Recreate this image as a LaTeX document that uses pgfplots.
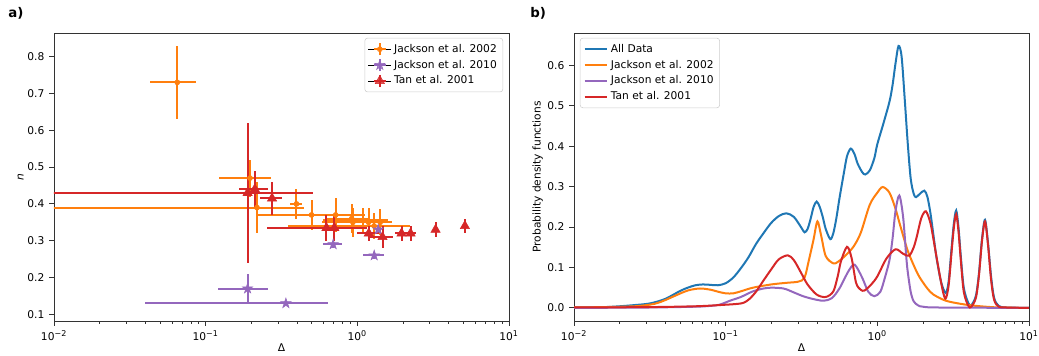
\documentclass[border=0pt]{standalone}
\usepackage{fontspec}
\setmainfont{DejaVu Sans}
\usepackage{pgfplots}
\pgfplotsset{compat=1.18}
\usepackage{pgfplotstable}
\definecolor{corange}{HTML}{FF7F0E}
\definecolor{cpurple}{HTML}{9467BD}
\definecolor{cred}{HTML}{D62728}
\definecolor{cblue}{HTML}{1F77B4}

\pgfdeclareplotmark{fstar}{%
  \pgfpathmoveto{\pgfpointpolar{90}{\pgfplotmarksize}}%
  \pgfpathlineto{\pgfpointpolar{126}{0.382\pgfplotmarksize}}%
  \pgfpathlineto{\pgfpointpolar{162}{\pgfplotmarksize}}%
  \pgfpathlineto{\pgfpointpolar{198}{0.382\pgfplotmarksize}}%
  \pgfpathlineto{\pgfpointpolar{234}{\pgfplotmarksize}}%
  \pgfpathlineto{\pgfpointpolar{270}{0.382\pgfplotmarksize}}%
  \pgfpathlineto{\pgfpointpolar{306}{\pgfplotmarksize}}%
  \pgfpathlineto{\pgfpointpolar{342}{0.382\pgfplotmarksize}}%
  \pgfpathlineto{\pgfpointpolar{18}{\pgfplotmarksize}}%
  \pgfpathlineto{\pgfpointpolar{54}{0.382\pgfplotmarksize}}%
  \pgfpathclose\pgfusepathqfillstroke}

% Jackson et al. 2002
\pgfplotstableread{
x y xm xp ym yp
0.065 0.73 0.022 0.022 0.10 0.10
0.196 0.47 0.073 0.073 0.05 0.05
0.218 0.39 0.213 0.226 0.07 0.07
0.397 0.40 0.036 0.036 0.04 0.04
0.499 0.37 0.28 0.28 0.04 0.04
0.720 0.37 0.40 0.40 0.045 0.045
0.918 0.36 0.30 0.30 0.04 0.04
0.935 0.35 0.35 0.35 0.04 0.04
1.098 0.355 0.50 0.50 0.035 0.035
1.185 0.35 0.30 0.30 0.04 0.04
1.29 0.34 0.94 0.94 0.035 0.035
1.415 0.35 0.28 0.28 0.035 0.035
}\jacksonA

% Jackson et al. 2010
\pgfplotstableread{
x y xm xp ym yp
0.189 0.17 0.068 0.068 0.04 0.04
0.338 0.13 0.298 0.298 0.005 0.005
0.693 0.29 0.095 0.095 0.01 0.01
1.292 0.26 0.20 0.20 0.01 0.01
1.373 0.33 0.03 0.03 0.01 0.01
}\jacksonB

% Tan et al. 2001
\pgfplotstableread{
x y xm xp ym yp
0.189 0.43 0.184 0.323 0.19 0.19
0.211 0.44 0.046 0.046 0.05 0.05
0.274 0.415 0.046 0.046 0.045 0.045
0.626 0.335 0.15 0.15 0.035 0.035
0.705 0.335 0.45 0.45 0.035 0.035
1.19 0.32 0.20 0.20 0.02 0.02
1.466 0.31 0.26 0.26 0.03 0.03
1.957 0.32 0.18 0.18 0.02 0.02
2.244 0.32 0.20 0.20 0.02 0.02
3.28 0.33 0.03 0.03 0.02 0.02
5.12 0.34 0.06 0.06 0.02 0.02
}\tandata

% PDF curves
\pgfplotstableread{
D v
0.01 0.001
0.01585 0.002
0.01995 0.004
0.02512 0.007
0.03162 0.011
0.03981 0.022
0.05012 0.042
0.05623 0.050
0.06310 0.056
0.07079 0.058
0.07943 0.057
0.08913 0.056
0.1 0.061
0.1122 0.075
0.1259 0.098
0.1413 0.125
0.1585 0.158
0.1778 0.185
0.1995 0.210
0.2239 0.227
0.2512 0.234
0.2818 0.225
0.3162 0.198
0.3311 0.187
0.3467 0.195
0.3631 0.220
0.3802 0.250
0.3981 0.263
0.4169 0.250
0.4365 0.225
0.4571 0.195
0.4898 0.170
0.5129 0.185
0.5370 0.222
0.5623 0.270
0.6026 0.335
0.6310 0.375
0.6683 0.394
0.7079 0.380
0.7413 0.357
0.7943 0.336
0.8318 0.330
0.8913 0.340
0.9550 0.370
1.0 0.405
1.0965 0.456
1.2023 0.510
1.2589 0.550
1.3183 0.605
1.3804 0.648
1.4454 0.622
1.5136 0.520
1.5849 0.410
1.6596 0.320
1.7378 0.282
1.7989 0.274
1.9055 0.282
2.0417 0.290
2.1380 0.275
2.2387 0.235
2.3442 0.180
2.4547 0.125
2.6303 0.065
2.8184 0.037
2.9512 0.065
3.0903 0.150
3.1989 0.210
3.3113 0.241
3.4277 0.200
3.5481 0.130
3.7154 0.050
3.9811 0.012
4.1687 0.007
4.4668 0.030
4.6774 0.085
4.8978 0.170
5.1286 0.218
5.3703 0.160
5.6234 0.078
5.8884 0.025
6.3096 0.005
7.0795 0.001
10 0.000
}\pdfall

\pgfplotstableread{
D v
0.01 0.001
0.01585 0.002
0.02512 0.004
0.03162 0.008
0.03548 0.012
0.03981 0.019
0.04571 0.029
0.05623 0.043
0.06761 0.048
0.07943 0.045
0.08913 0.040
0.1 0.036
0.1122 0.036
0.1259 0.041
0.1514 0.050
0.1995 0.058
0.2512 0.062
0.3020 0.065
0.3311 0.075
0.3548 0.120
0.3802 0.170
0.4027 0.214
0.4266 0.178
0.4571 0.128
0.5129 0.110
0.5495 0.114
0.6026 0.126
0.6918 0.150
0.7762 0.185
0.8913 0.255
1.0 0.285
1.0839 0.299
1.2023 0.285
1.3183 0.245
1.4125 0.205
1.5849 0.142
1.7783 0.097
1.9055 0.075
2.1380 0.048
2.3442 0.033
2.8184 0.018
3.5481 0.010
4.4668 0.005
6.3096 0.001
10 0.000
}\pdfjA

\pgfplotstableread{
D v
0.01 0.000
0.03162 0.001
0.06310 0.003
0.07943 0.005
0.09120 0.008
0.1072 0.018
0.1259 0.027
0.1514 0.041
0.1778 0.048
0.1995 0.050
0.2291 0.049
0.2512 0.046
0.3236 0.029
0.3981 0.020
0.4467 0.018
0.5012 0.024
0.5623 0.048
0.6457 0.091
0.7079 0.107
0.7943 0.075
0.8710 0.040
0.9550 0.029
1.0471 0.040
1.1220 0.075
1.2023 0.118
1.2589 0.170
1.3183 0.240
1.3964 0.278
1.4791 0.225
1.5488 0.130
1.5849 0.091
1.6596 0.040
1.7378 0.016
1.8621 0.006
1.9953 0.003
2.5119 0.001
10 0.000
}\pdfjB

\pgfplotstableread{
D v
0.01 0.001
0.03162 0.002
0.06310 0.004
0.09120 0.007
0.1259 0.011
0.1413 0.020
0.1585 0.040
0.1778 0.068
0.1995 0.095
0.2239 0.120
0.2570 0.130
0.2818 0.118
0.3162 0.085
0.3467 0.058
0.3981 0.033
0.4571 0.027
0.5129 0.041
0.5495 0.080
0.5754 0.115
0.6310 0.151
0.6761 0.124
0.7244 0.062
0.7762 0.045
0.8222 0.043
0.9120 0.058
1.0 0.078
1.1482 0.122
1.3183 0.145
1.4791 0.134
1.6218 0.129
1.7378 0.150
1.8197 0.176
1.9498 0.222
2.0893 0.239
2.2387 0.210
2.3442 0.170
2.5119 0.105
2.6915 0.045
2.8184 0.023
2.9512 0.055
3.0903 0.140
3.1989 0.200
3.3113 0.232
3.4277 0.190
3.5481 0.120
3.7154 0.040
3.9811 0.005
4.1687 0.003
4.4668 0.025
4.6774 0.080
4.8978 0.165
5.1286 0.214
5.3703 0.155
5.6234 0.070
5.8884 0.020
6.3096 0.003
7.0795 0.001
10 0.000
}\pdftan

\begin{document}
\begin{tikzpicture}
\path[use as bounding box] (0,0) rectangle (779.25pt,267pt);

\node[anchor=north west, inner sep=0pt, font=\fontsize{10}{12}\selectfont\bfseries] at (6pt,261.5pt) {a)};
\node[anchor=north west, inner sep=0pt, font=\fontsize{10}{12}\selectfont\bfseries] at (397.5pt,261.5pt) {b)};

\begin{axis}[at={(40.5pt,26.25pt)}, anchor=south west,
    scale only axis, width=341.25pt, height=216pt,
    xmode=log, xmin=0.01, xmax=10, xtick={0.01,0.1,1,10},
    xticklabels={10\textsuperscript{−2},10\textsuperscript{−1},10\textsuperscript{0},10\textsuperscript{1}},
    tick align=outside, tick pos=left,
    major tick length=3.7pt, minor tick length=2.1pt,
    every tick/.append style={black!80, line width=0.6pt},
    axis line style={black!80, line width=0.6pt},
    tick label style={font=\fontsize{8}{9.6}\selectfont},
    label style={font=\fontsize{8}{9.6}\selectfont},
    /pgf/number format/assume math mode=true,
    yticklabel style={/pgf/number format/fixed, /pgf/number format/fixed zerofill, /pgf/number format/precision=1},
    xlabel={Δ}, xlabel style={yshift=4.5pt}, ylabel style={yshift=-4pt},
    legend style={font=\fontsize{8}{9.6}\selectfont, draw=black!20, rounded corners=2pt, fill=white, fill opacity=0.8, text opacity=1, inner sep=2.5pt, row sep=0.3pt, at={(0.987,0.983)}, anchor=north east},
    legend cell align=left,
  ymin=0.082, ymax=0.864, ytick={0.1,0.2,0.3,0.4,0.5,0.6,0.7,0.8},
  ylabel={\textit{n}}]
\addplot[forget plot, only marks, mark=*, mark size=1.9pt, color=corange,
  error bars/.cd, x dir=both, x explicit, y dir=both, y explicit, error mark=none, error bar style={line width=1.5pt, corange}]
  table[x=x, y=y, x error minus=xm, x error plus=xp, y error minus=ym, y error plus=yp] {\jacksonA};
\addplot[forget plot, only marks, mark=fstar, mark size=4pt, color=cpurple,
  error bars/.cd, x dir=both, x explicit, y dir=both, y explicit, error mark=none, error bar style={line width=1.5pt, cpurple}]
  table[x=x, y=y, x error minus=xm, x error plus=xp, y error minus=ym, y error plus=yp] {\jacksonB};
\addplot[forget plot, only marks, mark=triangle*, mark size=4pt, color=cred,
  error bars/.cd, x dir=both, x explicit, y dir=both, y explicit, error mark=none, error bar style={line width=1.5pt, cred}]
  table[x=x, y=y, x error minus=xm, x error plus=xp, y error minus=ym, y error plus=yp] {\tandata};
\addlegendimage{legend image code/.code={\path (0cm,0cm) -- (0.6cm,0cm); \draw[corange, line width=1.5pt] (0.14cm,0cm)--(0.46cm,0cm) (0.3cm,-0.16cm)--(0.3cm,0.16cm); \fill[corange] (0.3cm,0cm) circle (1.9pt);}}
\addlegendentry{Jackson et al. 2002}
\addlegendimage{legend image code/.code={\path (0cm,0cm) -- (0.6cm,0cm); \draw[cpurple, line width=1.5pt] (0.14cm,0cm)--(0.46cm,0cm) (0.3cm,-0.16cm)--(0.3cm,0.16cm); \draw[cpurple, fill=cpurple] plot[mark=fstar, mark size=4pt] coordinates {(0.3cm,0cm)};}}
\addlegendentry{Jackson et al. 2010}
\addlegendimage{legend image code/.code={\path (0cm,0cm) -- (0.6cm,0cm); \draw[cred, line width=1.5pt] (0.14cm,0cm)--(0.46cm,0cm) (0.3cm,-0.16cm)--(0.3cm,0.16cm); \draw[cred, fill=cred] plot[mark=triangle*, mark size=4pt] coordinates {(0.3cm,0cm)};}}
\addlegendentry{Tan et al. 2001}
\end{axis}

\begin{axis}[at={(430.5pt,26.25pt)}, anchor=south west,
    scale only axis, width=341.25pt, height=216pt,
    xmode=log, xmin=0.01, xmax=10, xtick={0.01,0.1,1,10},
    xticklabels={10\textsuperscript{−2},10\textsuperscript{−1},10\textsuperscript{0},10\textsuperscript{1}},
    tick align=outside, tick pos=left,
    major tick length=3.7pt, minor tick length=2.1pt,
    every tick/.append style={black!80, line width=0.6pt},
    axis line style={black!80, line width=0.6pt},
    tick label style={font=\fontsize{8}{9.6}\selectfont},
    label style={font=\fontsize{8}{9.6}\selectfont},
    /pgf/number format/assume math mode=true,
    yticklabel style={/pgf/number format/fixed, /pgf/number format/fixed zerofill, /pgf/number format/precision=1},
    xlabel={Δ}, xlabel style={yshift=4.5pt}, ylabel style={yshift=-3.5pt},
    legend style={font=\fontsize{8}{9.6}\selectfont, draw=black!20, rounded corners=2pt, fill=white, fill opacity=0.8, text opacity=1, inner sep=2.5pt, row sep=0.3pt, at={(0.013,0.983)}, anchor=north west},
    legend cell align=left,
  ymin=-0.0324, ymax=0.680, ytick={0,0.1,0.2,0.3,0.4,0.5,0.6},
  ylabel={Probability density functions}]
\addplot[cblue, line width=1.5pt, smooth] table[x=D, y=v] {\pdfall};
\addlegendentry{All Data}
\addplot[corange, line width=1.5pt, smooth] table[x=D, y=v] {\pdfjA};
\addlegendentry{Jackson et al. 2002}
\addplot[cpurple, line width=1.5pt, smooth] table[x=D, y=v] {\pdfjB};
\addlegendentry{Jackson et al. 2010}
\addplot[cred, line width=1.5pt, smooth] table[x=D, y=v] {\pdftan};
\addlegendentry{Tan et al. 2001}
\end{axis}
\end{tikzpicture}
\end{document}
